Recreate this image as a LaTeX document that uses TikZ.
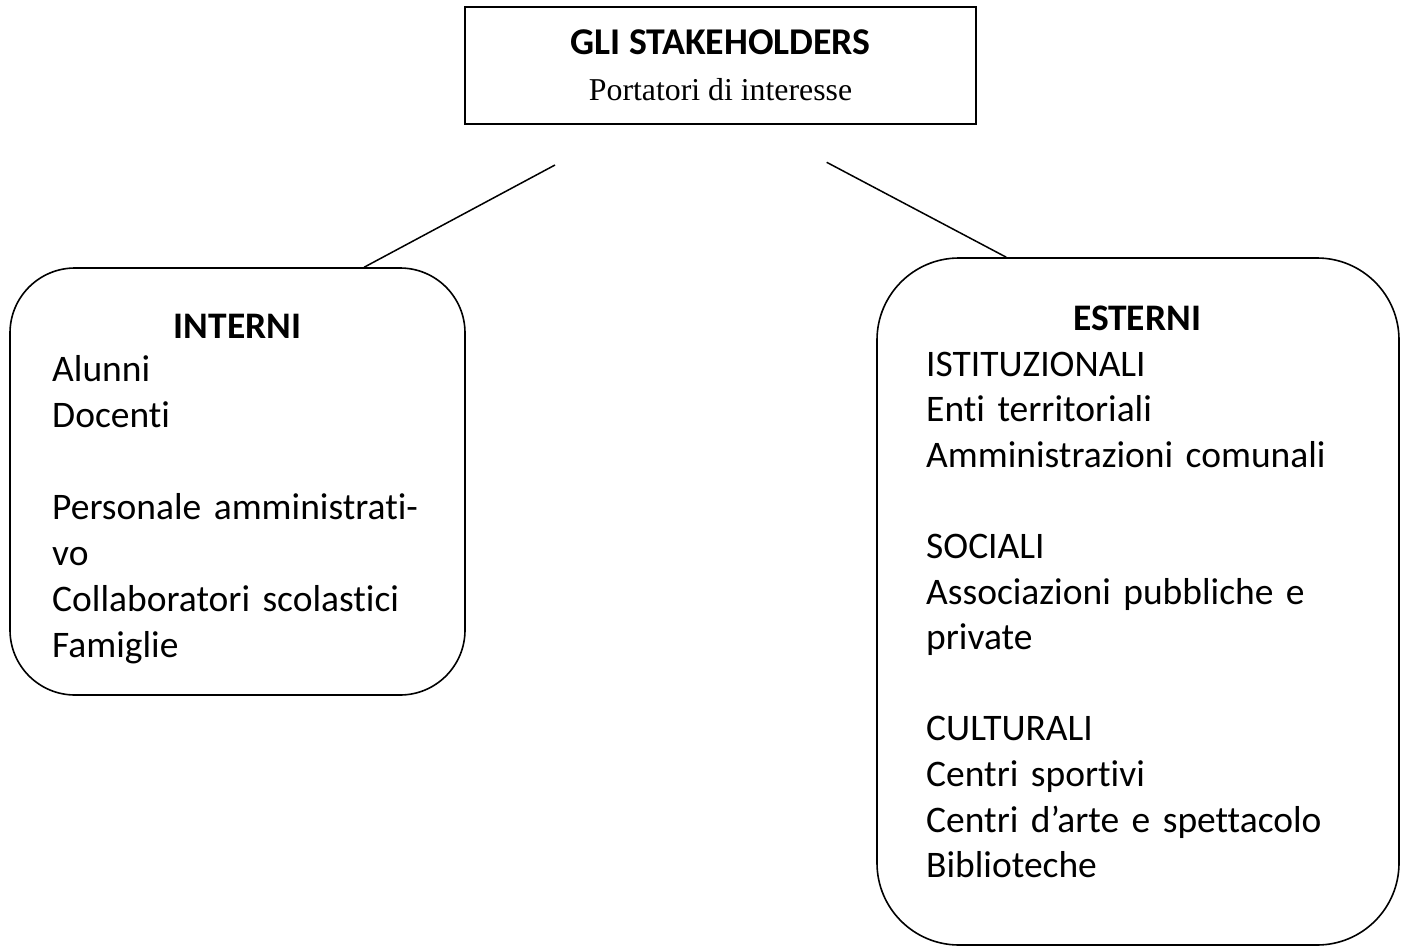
\documentclass[tikz,border=0pt]{standalone}
\usepackage{fontspec}
\setmainfont{Carlito}[Ligatures={NoCommon}]
\newfontfamily\tnr{Liberation Serif}
\usetikzlibrary{calc}
\tikzset{
  rbox/.style={draw=black, line width=1.6pt, fill=none, inner sep=0pt},
  tbox/.style={draw=black, line width=2.2pt, inner sep=0pt},
  conn/.style={draw=black, line width=1.5pt},
  listtxt/.style={inner sep=0pt, anchor=base west, align=left, text width=520pt,
    font=\fontsize{37.5pt}{46pt}\selectfont},
  headtxt/.style={inner sep=0pt, anchor=base, font=\fontsize{37.5pt}{46pt}\selectfont\bfseries}
}
\begin{document}
\begin{tikzpicture}[x=1pt,y=-1pt]
\useasboundingbox (0,0) rectangle (1405,947);
% title box
\node[tbox, minimum width=511pt, minimum height=117pt] (title) at (720.5,65.5) {};
\node[inner sep=0pt, anchor=base, font=\fontsize{37.8pt}{44pt}\selectfont\bfseries] (t1) at (720.5,55) {GLI STAKEHOLDERS};
\node[inner sep=0pt, anchor=base, font=\tnr\fontsize{31.8pt}{36pt}\selectfont] (t2) at (720.5,100.7) {Portatori di interesse};
% boxes
\node[rbox, rounded corners=65pt, minimum width=455pt, minimum height=427pt] (interni) at (237.5,481.5) {};
\node[rbox, rounded corners=82pt, minimum width=522pt, minimum height=687pt] (esterni) at (1138,601.5) {};
% connectors
\coordinate (l1) at (555,165);
\coordinate (r1) at (826.7,162.3);
\draw[conn] (l1) -- ($(interni.north west)+(355,0)$);
\draw[conn] (r1) -- ($(esterni.north west)+(130,0)$);
% texts
\node[headtxt] (hi) at (237.5,338) {INTERNI};
\node[listtxt] (li) at (52,381) {Alunni\\Docenti\\[46pt]Personale amministrati-\\vo\\Collaboratori scolastici\\Famiglie};
\node[headtxt] (he) at (1137,330) {ESTERNI};
\node[listtxt, font=\fontsize{37.5pt}{45.6pt}\selectfont] (le) at (926,376) {ISTITUZIONALI\\Enti territoriali\\Amministrazioni comunali\\[45.6pt]SOCIALI\\Associazioni pubbliche e\\private\\[45.6pt]CULTURALI\\Centri sportivi\\Centri d’arte e spettacolo\\Biblioteche};
\end{tikzpicture}
\end{document}
